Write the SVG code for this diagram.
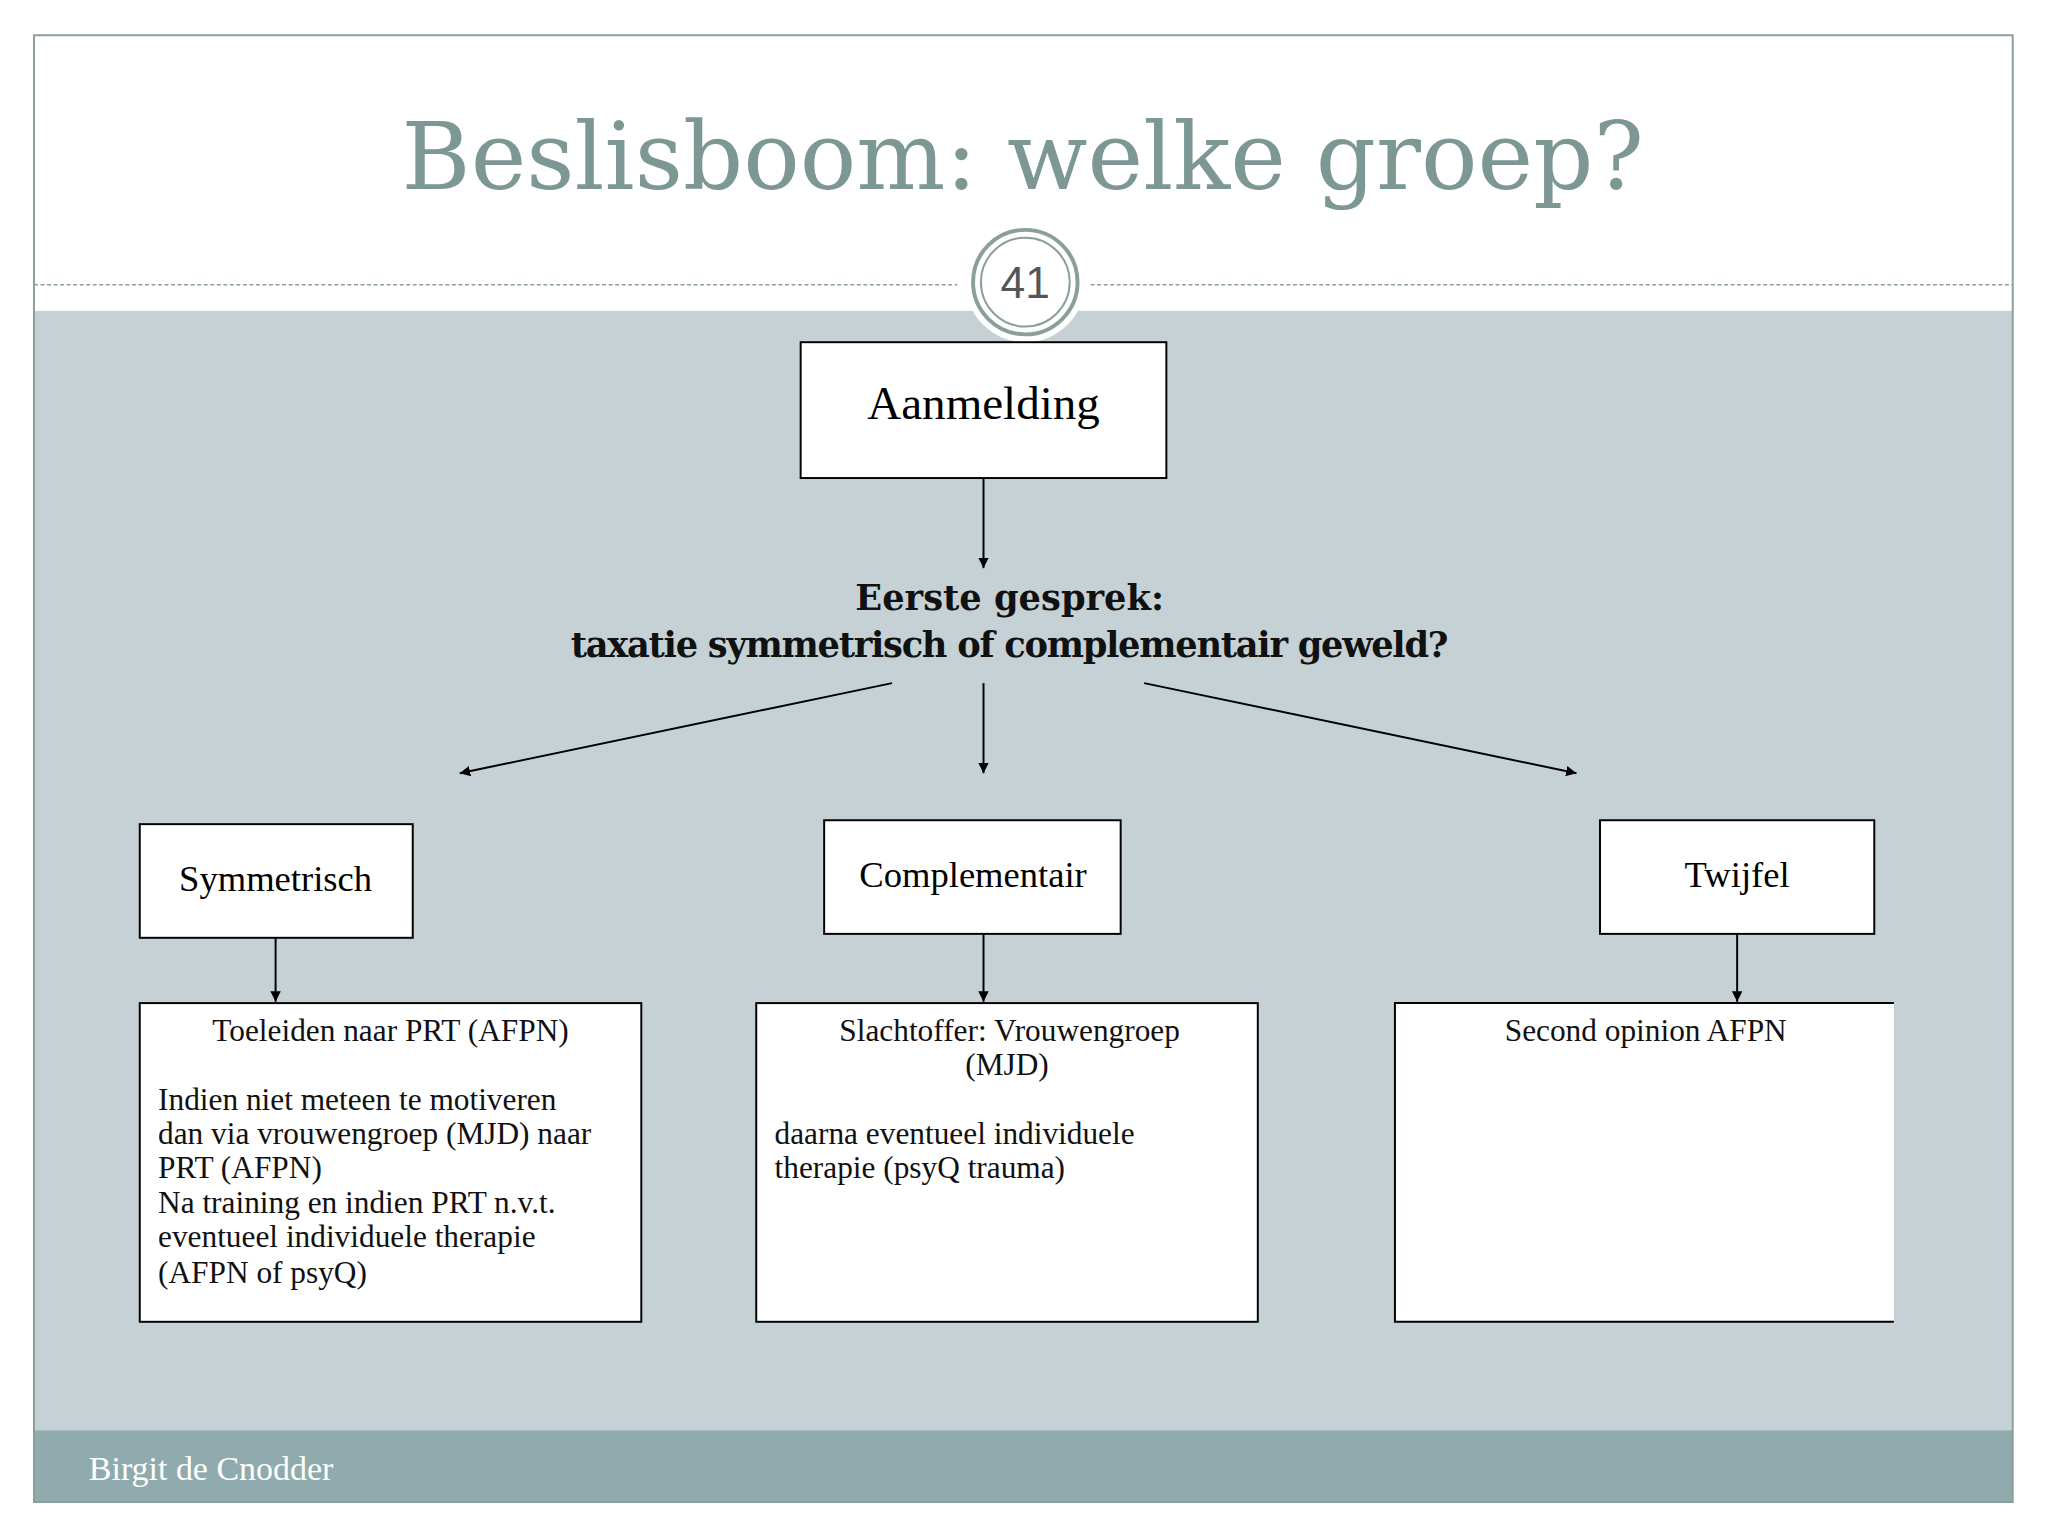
<svg xmlns="http://www.w3.org/2000/svg" width="2048" height="1536" viewBox="0 0 2048 1536">
<style>
.s{font-family:"DejaVu Serif","Liberation Serif",serif;}
.box{fill:#fff;stroke:#000;stroke-width:1.5}
.t{font-family:"Liberation Serif",serif;font-size:24px;fill:#111}
.c{stroke:#000;stroke-width:1.5;fill:none;marker-end:url(#a)}
</style>
<defs><marker id="a" viewBox="0 0 10 10" refX="10" refY="5" markerWidth="8" markerHeight="8" markerUnits="userSpaceOnUse" orient="auto"><path d="M0,0L10,5L0,10z" fill="#000"/></marker></defs>
<rect width="2048" height="1536" fill="#fff"/>
<g transform="scale(1.30612)">
<rect x="26" y="238" width="1515" height="857" fill="#c5d1d4"/>
<rect x="26" y="1095" width="1515" height="55" fill="#8fabad"/>
<rect x="26" y="27" width="1515" height="1123" fill="none" stroke="#8a9e9c" stroke-width="1.5"/>
<text x="783" y="145" text-anchor="middle" font-family="Georgia,'DejaVu Serif','Liberation Serif',serif" font-size="72" fill="#7d9894">Beslisboom: welke groep?</text>
<line x1="26" y1="218" x2="733" y2="218" stroke="#8a9e9c" stroke-dasharray="3,2"/>
<line x1="835" y1="218" x2="1541" y2="218" stroke="#8a9e9c" stroke-dasharray="3,2"/>
<circle cx="785" cy="216" r="46" fill="#fff"/>
<circle cx="785" cy="216" r="40" fill="none" stroke="#8a9e9c" stroke-width="3"/>
<circle cx="785" cy="216" r="34" fill="none" stroke="#8a9e9c" stroke-width="1.5"/>
<text x="785" y="228" text-anchor="middle" font-family="'Liberation Sans',sans-serif" font-size="34" fill="#555">41</text>
<text x="68" y="1133" font-family="'Liberation Serif',serif" font-size="26" fill="#fff">Birgit de Cnodder</text>
<g id="connectors">
<line class="c" x1="753" y1="366" x2="753" y2="435"/>
<line class="c" x1="683" y1="523" x2="352" y2="592"/>
<line class="c" x1="753" y1="523" x2="753" y2="592"/>
<line class="c" x1="876" y1="523" x2="1207" y2="592"/>
<line class="c" x1="211" y1="718" x2="211" y2="767"/>
<line class="c" x1="753" y1="715" x2="753" y2="767"/>
<line class="c" x1="1330" y1="715" x2="1330" y2="767"/>
</g>
<g id="aanmelding"><rect class="box" x="613" y="262" width="280" height="104"/><text x="753" y="321" text-anchor="middle" font-family="'Liberation Serif',serif" font-size="36">Aanmelding</text></g>
<g id="eerste"><text x="773" y="467" text-anchor="middle" font-family="'DejaVu Serif','Liberation Serif',serif" font-weight="bold" font-size="27" fill="#111">Eerste gesprek:</text><text x="773" y="503" text-anchor="middle" font-family="'DejaVu Serif','Liberation Serif',serif" font-weight="bold" font-size="27" fill="#111" textLength="672">taxatie symmetrisch of complementair geweld?</text></g>
<g id="symmetrisch"><rect class="box" x="107" y="631" width="209" height="87"/><text x="211" y="682" text-anchor="middle" font-family="'Liberation Serif',serif" font-size="28">Symmetrisch</text></g>
<g id="complementair"><rect class="box" x="631" y="628" width="227" height="87"/><text x="745" y="679" text-anchor="middle" font-family="'Liberation Serif',serif" font-size="28">Complementair</text></g>
<g id="twijfel"><rect class="box" x="1225" y="628" width="210" height="87"/><text x="1330" y="679" text-anchor="middle" font-family="'Liberation Serif',serif" font-size="28">Twijfel</text></g>
<g id="b1"><rect class="box" x="107" y="768" width="384" height="244"/>
<text class="t" x="299" y="797" text-anchor="middle">Toeleiden naar PRT (AFPN)</text>
<text class="t" x="121" y="850">Indien niet meteen te motiveren</text>
<text class="t" x="121" y="876">dan via vrouwengroep (MJD) naar</text>
<text class="t" x="121" y="902">PRT (AFPN)</text>
<text class="t" x="121" y="929">Na training en indien PRT n.v.t.</text>
<text class="t" x="121" y="955">eventueel individuele therapie</text>
<text class="t" x="121" y="982">(AFPN of psyQ)</text></g>
<g id="b2"><rect class="box" x="579" y="768" width="384" height="244"/>
<text class="t" x="773" y="797" text-anchor="middle">Slachtoffer: Vrouwengroep</text>
<text class="t" x="771" y="823" text-anchor="middle">(MJD)</text>
<text class="t" x="593" y="876">daarna eventueel individuele</text>
<text class="t" x="593" y="902">therapie (psyQ trauma)</text></g>
<g id="b3"><rect x="1068" y="768" width="382" height="244" fill="#fff"/><path d="M1450,768H1068V1012H1450" fill="none" stroke="#000" stroke-width="1.5"/>
<text class="t" x="1260" y="797" text-anchor="middle">Second opinion AFPN</text></g>
</g>
</svg>
